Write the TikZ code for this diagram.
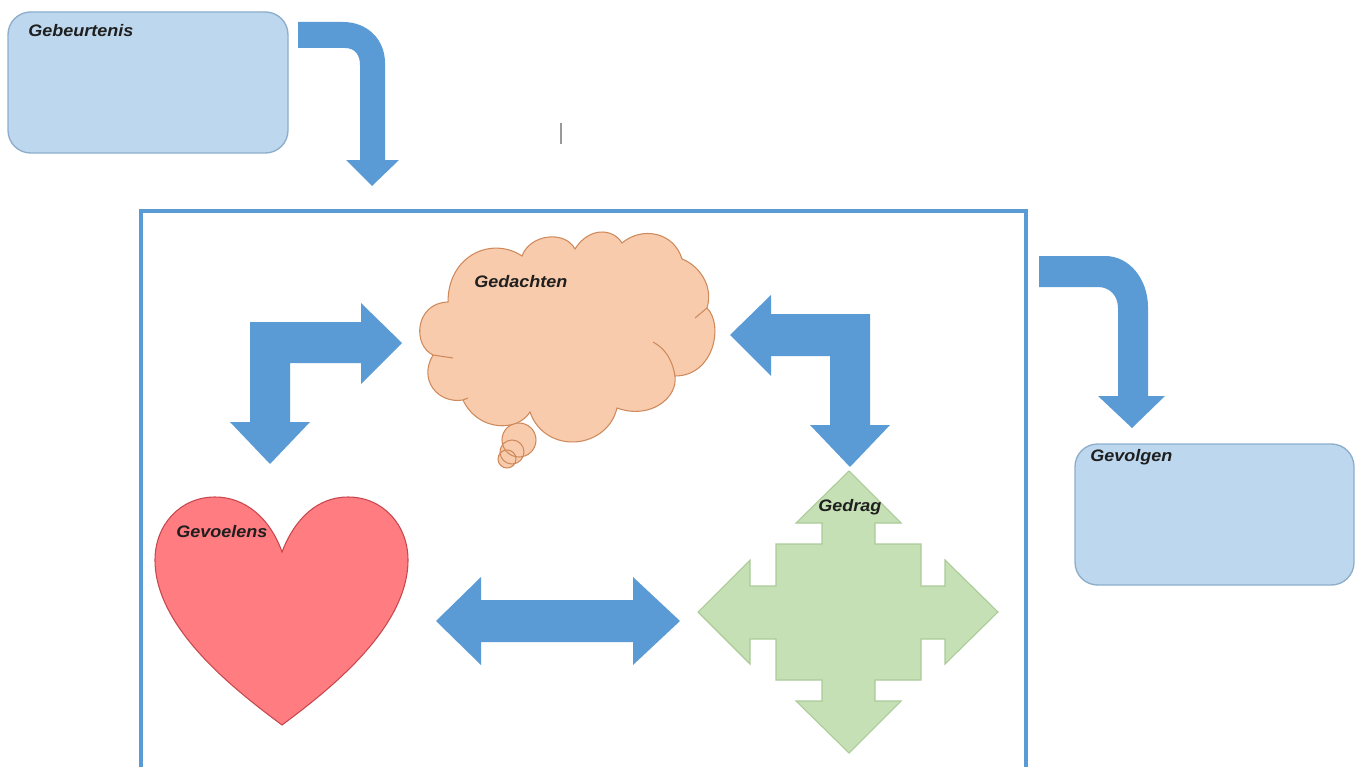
\documentclass[tikz,border=0pt]{standalone}
\usepackage{fontspec}
\setmainfont[FakeStretch=1.08]{Liberation Sans}
\definecolor{arrowblue}{HTML}{5B9BD5}
\definecolor{boxfill}{HTML}{BDD7EE}
\definecolor{boxedge}{HTML}{8DAECB}
\definecolor{cloudfill}{HTML}{F8CBAD}
\definecolor{cloudedge}{HTML}{CF8A5C}
\definecolor{heartfill}{HTML}{FF7C80}
\definecolor{heartedge}{HTML}{C8474E}
\definecolor{greenfill}{HTML}{C5E0B4}
\definecolor{greenedge}{HTML}{ACCB98}
\tikzset{
  blockarrow/.style={fill=arrowblue,draw=none},
  infobox/.style={fill=boxfill,draw=boxedge,line width=1pt,rounded corners=17pt},
  cloudshape/.style={fill=cloudfill,draw=cloudedge,line width=0.8pt},
  cloudline/.style={draw=cloudedge,line width=0.8pt},
  heartshape/.style={fill=heartfill,draw=heartedge,line width=0.8pt},
  crossshape/.style={fill=greenfill,draw=greenedge,line width=0.8pt},
  framebox/.style={draw=arrowblue,line width=3pt},
  lbl/.style={inner sep=0pt,font=\fontsize{12.5}{14}\selectfont\bfseries\itshape,text=black!88}
}
\begin{document}
\begin{tikzpicture}[x=0.75pt,y=-0.75pt]
\useasboundingbox (0,0) rectangle (1361,767);
\fill[white] (0,0) rectangle (1361,767);
% frame
\draw[framebox] (141,767) -- (141,211) -- (1026,211) -- (1026,767);
% boxes
\path[infobox] (8,12) rectangle (288,153);
\path[infobox] (1075,444) rectangle (1354,585);
% small mark
\draw[black!40,line width=0.8pt] (561,123) -- (561,144);
% bent arrow top-left
\path[blockarrow] (298,22) -- (343,22) .. controls (368,22) and (385,40) .. (385,63) -- (385,160) -- (399,160) -- (372,186) -- (346,160) -- (360,160) -- (360,65) .. controls (360,55) and (355,48) .. (345,48) -- (298,48) -- cycle;
% bent arrow right
\path[blockarrow] (1039,256) -- (1105,256) .. controls (1130,256) and (1148,280) .. (1148,307) -- (1148,396) -- (1165,396) -- (1132,428) -- (1098,396) -- (1118,396) -- (1118,308) .. controls (1118,296) and (1110,287) .. (1098,287) -- (1039,287) -- cycle;
% inner left arrow
\path[blockarrow] (250,322) -- (361,322) -- (361,303) -- (402,343) -- (361,384) -- (361,363) -- (290,363) -- (290,422) -- (310,422) -- (270,464) -- (230,422) -- (250,422) -- cycle;
% inner right arrow
\path[blockarrow] (870,314) -- (771,314) -- (771,295) -- (730,335) -- (771,376) -- (771,356) -- (830,356) -- (830,425) -- (810,425) -- (850,467) -- (890,425) -- (870,425) -- cycle;
% double arrow
\path[blockarrow] (436,621) -- (481,577) -- (481,600) -- (633,600) -- (633,577) -- (680,621) -- (633,665) -- (633,642) -- (481,642) -- (481,665) -- cycle;
% cloud
\fill[cloudfill] (519,440) circle[radius=17];
\fill[cloudfill] (512,452) circle[radius=12];
\fill[cloudfill] (507,459) circle[radius=9];
\draw[cloudline] (519,440) circle[radius=17];
\draw[cloudline] (512,452) circle[radius=12];
\draw[cloudline] (507,459) circle[radius=9];
\draw[cloudshape] (448,302) .. controls (448,255) and (492,236) .. (522,256)
  .. controls (530,234) and (565,230) .. (575,249)
  .. controls (588,228) and (612,227) .. (622,243)
  .. controls (642,226) and (674,232) .. (682,259)
  .. controls (698,265) and (714,285) .. (707,308)
  .. controls (724,325) and (714,376) .. (675,376)
  .. controls (678,398) and (650,420) .. (617,408)
  .. controls (607,450) and (545,455) .. (530,412)
  .. controls (518,432) and (478,432) .. (463,400)
  .. controls (438,404) and (418,380) .. (433,355)
  .. controls (412,345) and (415,303) .. (448,302) -- cycle;
\draw[cloudline] (707,308) -- (695,318);
\draw[cloudline] (653,342) .. controls (664,348) and (672,358) .. (675,376);
\draw[cloudline] (433,355) -- (453,358);
\draw[cloudline] (463,400) -- (468,398);
% heart
\draw[heartshape] (282,552) .. controls (270,518) and (245,497) .. (215,497)
  .. controls (180,497) and (155,525) .. (155,560)
  .. controls (155,628) and (235,690) .. (282,725)
  .. controls (329,690) and (408,628) .. (408,560)
  .. controls (408,525) and (383,497) .. (348,497)
  .. controls (318,497) and (295,518) .. (282,552) -- cycle;
% four-way arrow
\draw[crossshape,line join=miter] (849,471) -- (901,523) -- (875,523) -- (875,544) -- (921,544) -- (921,586) -- (945,586) -- (945,560) -- (998,612) -- (945,664) -- (945,639) -- (921,639) -- (921,680) -- (875,680) -- (875,701) -- (901,701) -- (849,753) -- (796,701) -- (822,701) -- (822,680) -- (776,680) -- (776,639) -- (750,639) -- (750,664) -- (698,612) -- (750,560) -- (750,586) -- (776,586) -- (776,544) -- (822,544) -- (822,523) -- (796,523) -- cycle;
% labels
\node[lbl,anchor=west] (gebeurtenis) at (28,31) {Gebeurtenis};
\node[lbl,anchor=west] (gedachten) at (474,282) {Gedachten};
\node[lbl,anchor=west] (gevoelens) at (176,532) {Gevoelens};
\node[lbl,anchor=west] (gedrag) at (818,507) {Gedrag};
\node[lbl,anchor=west] (gevolgen) at (1090,457) {Gevolgen};
\end{tikzpicture}
\end{document}
